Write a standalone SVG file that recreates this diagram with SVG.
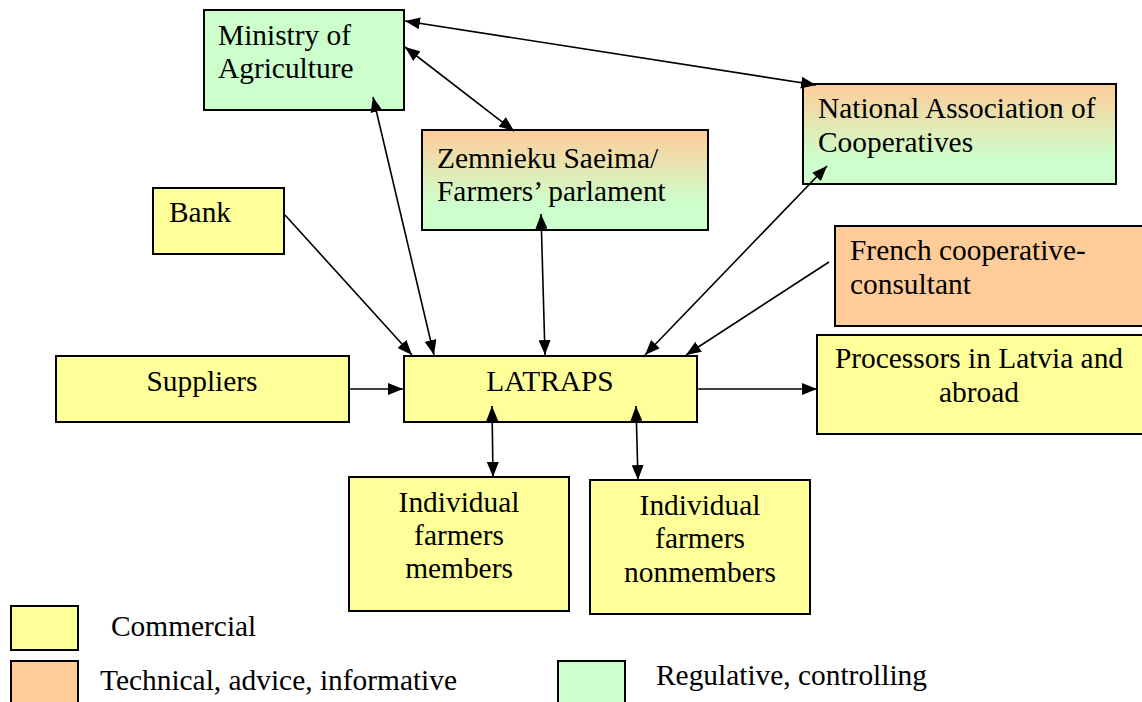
<svg xmlns="http://www.w3.org/2000/svg" width="1142" height="702" viewBox="0 0 1142 702">
<style>
.box{stroke:#000;stroke-width:2}
.y{fill:#FFFF99}
.o{fill:#FFCC99}
.g{fill:#CCFFCC}
.t{font-family:'Liberation Serif','Times New Roman','DejaVu Serif',serif;font-size:29.4px;fill:#000}
.c{text-anchor:middle}
.ln{stroke:#000;stroke-width:1.6;fill:none}
</style>
<defs>
<linearGradient id="og" x1="0" y1="0" x2="0" y2="1">
<stop offset="0" stop-color="#FFCC99"/>
<stop offset="0.75" stop-color="#CCFFCC"/>
<stop offset="1" stop-color="#CCFFCC"/>
</linearGradient>
<marker id="ah" markerUnits="userSpaceOnUse" markerWidth="16" markerHeight="12" refX="15" refY="6" orient="auto-start-reverse">
<path d="M0,0 L15,6 L0,12 z" fill="#000"/>
</marker>
</defs>
<rect width="1142" height="702" fill="#fff"/>
<g id="ministry">
<rect class="box g" x="204" y="10" width="200" height="100"/>
<text class="t" x="218" y="45">Ministry of</text>
<text class="t" x="218" y="78">Agriculture</text>
</g>
<g id="zemnieku">
<rect class="box" fill="url(#og)" x="422" y="130" width="286" height="100"/>
<text class="t" x="437" y="168">Zemnieku Saeima/</text>
<text class="t" x="437" y="201">Farmers’ parlament</text>
</g>
<g id="national">
<rect class="box" fill="url(#og)" x="803" y="84" width="313" height="100"/>
<text class="t" x="818" y="118">National Association of</text>
<text class="t" x="818" y="152">Cooperatives</text>
</g>
<g id="french">
<rect class="box o" x="835" y="226" width="310" height="100"/>
<text class="t" x="850" y="260">French cooperative-</text>
<text class="t" x="850" y="294">consultant</text>
</g>
<g id="bank">
<rect class="box y" x="153" y="188" width="131" height="66"/>
<text class="t" x="169" y="222">Bank</text>
</g>
<g id="suppliers">
<rect class="box y" x="56" y="356" width="293" height="66"/>
<text class="t c" x="202" y="391">Suppliers</text>
</g>
<g id="latraps">
<rect class="box y" x="404" y="356" width="293" height="66"/>
<text class="t c" x="550" y="391">LATRAPS</text>
</g>
<g id="processors">
<rect class="box y" x="817" y="335" width="328" height="99"/>
<text class="t c" x="979" y="368">Processors in Latvia and</text>
<text class="t c" x="979" y="402">abroad</text>
</g>
<g id="members">
<rect class="box y" x="349" y="477" width="220" height="134"/>
<text class="t c" x="459" y="512">Individual</text>
<text class="t c" x="459" y="545">farmers</text>
<text class="t c" x="459" y="578">members</text>
</g>
<g id="nonmembers">
<rect class="box y" x="590" y="480" width="220" height="134"/>
<text class="t c" x="700" y="515">Individual</text>
<text class="t c" x="700" y="548">farmers</text>
<text class="t c" x="700" y="582">nonmembers</text>
</g>
<g id="legend">
<rect class="box y" x="11" y="606" width="67" height="44"/>
<text class="t" x="111" y="636">Commercial</text>
<rect class="box o" x="11" y="661" width="67" height="50"/>
<text class="t" x="100" y="690">Technical, advice, informative</text>
<rect class="box g" x="558" y="661" width="67" height="50"/>
<text class="t" x="656" y="685">Regulative, controlling</text>
</g>
<g id="connectors">
<line class="ln" x1="405" y1="21" x2="816" y2="85" marker-start="url(#ah)" marker-end="url(#ah)"/>
<line class="ln" x1="405" y1="47" x2="514" y2="131" marker-start="url(#ah)" marker-end="url(#ah)"/>
<line class="ln" x1="373" y1="97" x2="434" y2="355" marker-start="url(#ah)" marker-end="url(#ah)"/>
<line class="ln" x1="285" y1="215" x2="412" y2="355" marker-end="url(#ah)"/>
<line class="ln" x1="541" y1="214" x2="545" y2="355" marker-start="url(#ah)" marker-end="url(#ah)"/>
<line class="ln" x1="827" y1="166" x2="645" y2="355" marker-start="url(#ah)" marker-end="url(#ah)"/>
<line class="ln" x1="829" y1="262" x2="686" y2="355" marker-end="url(#ah)"/>
<line class="ln" x1="349" y1="389" x2="403" y2="389" marker-end="url(#ah)"/>
<line class="ln" x1="697" y1="389" x2="817" y2="389" marker-end="url(#ah)"/>
<line class="ln" x1="492" y1="406" x2="493" y2="477" marker-start="url(#ah)" marker-end="url(#ah)"/>
<line class="ln" x1="636" y1="406" x2="638" y2="480" marker-start="url(#ah)" marker-end="url(#ah)"/>
</g>
</svg>
